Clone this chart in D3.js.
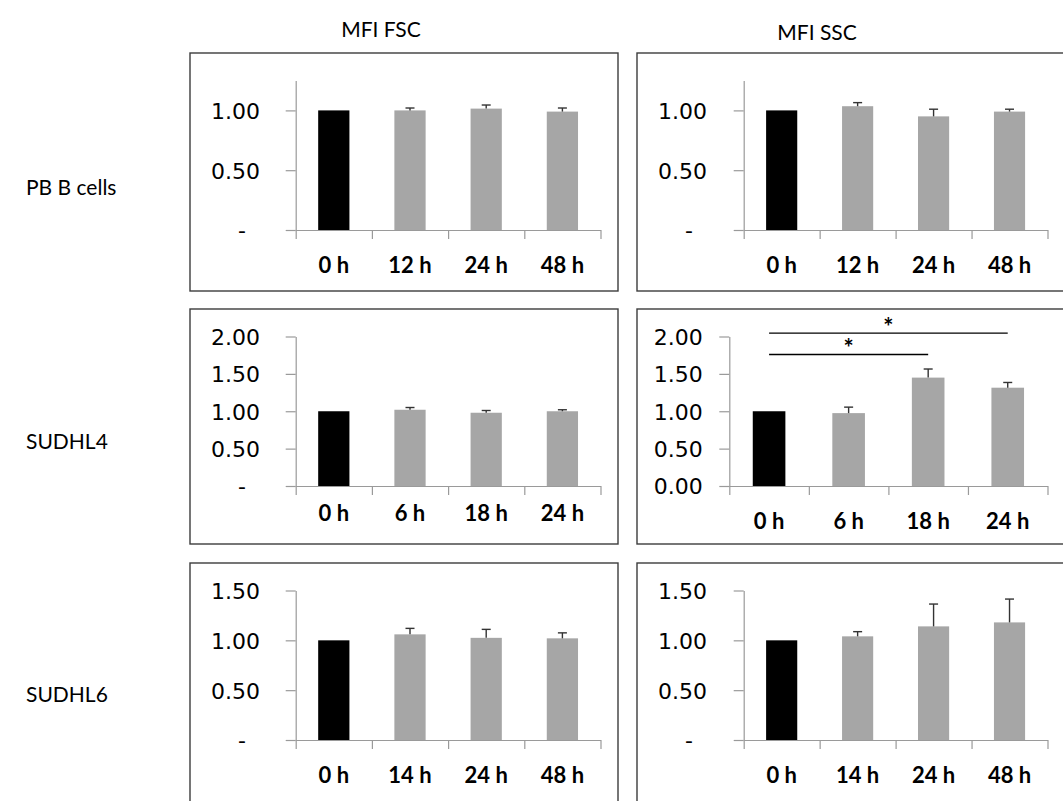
<!DOCTYPE html>
<html>
<head>
<meta charset="utf-8">
<script src="https://cdn.jsdelivr.net/npm/d3@7/dist/d3.min.js"></script>
<style>
  html, body { margin: 0; padding: 0; background: #fff; }
  svg { display: block; }
</style>
</head>
<body>
<svg id="chart" width="1063" height="801"></svg>
<script>
// ---------------- DATA ----------------
const colTitles = ["MFI FSC", "MFI SSC"];
const rowLabels = ["PB B cells", "SUDHL4", "SUDHL6"];

const catsPB  = ["0 h", "12 h", "24 h", "48 h"];
const catsSU4 = ["0 h", "6 h", "18 h", "24 h"];
const catsSU6 = ["0 h", "14 h", "24 h", "48 h"];

const fscPB     = [1.00, 1.00, 1.015, 0.99];
const fscPBErr  = [0, 0.02, 0.03, 0.03];
const sscPB     = [1.00, 1.035, 0.95, 0.99];
const sscPBErr  = [0, 0.03, 0.06, 0.02];

const fscSU4    = [1.00, 1.02, 0.98, 1.00];
const fscSU4Err = [0, 0.03, 0.03, 0.02];
const sscSU4    = [1.00, 0.975, 1.45, 1.315];
const sscSU4Err = [0, 0.08, 0.115, 0.07];

const fscSU6    = [1.00, 1.06, 1.025, 1.02];
const fscSU6Err = [0, 0.06, 0.085, 0.055];
const sscSU6    = [1.00, 1.04, 1.14, 1.18];
const sscSU6Err = [0, 0.047, 0.224, 0.234];

const ticksPB  = [0, 0.5, 1.0];
const ticksSU4 = [0, 0.5, 1.0, 1.5, 2.0];
const ticksSU6 = [0, 0.5, 1.0, 1.5];
const yMaxPB = 1.25, yMaxSU4 = 2.0, yMaxSU6 = 1.5;

// significance brackets for SUDHL4 SSC: [from category, to category, level, label]
const sigSU4 = [
  {from: "0 h", to: "24 h", level: 2.045, label: "*"},
  {from: "0 h", to: "18 h", level: 1.76,  label: "*"}
];

// ---------------- LAYOUT ----------------
const colBoxLeft = [190, 637];
const colBoxW    = [428, 440];
const rowBoxTop  = [53, 309, 563];
const rowBoxH    = [238, 235, 250];
const plotTopOff = 27.5, plotBotOff = 177, plotRightOff = 410.5;

const panels = [
  {r:0, c:0, cats:catsPB,  vals:fscPB,  errs:fscPBErr,  ticks:ticksPB,  yMax:yMaxPB,  zero:"-",    axisOff:105.7, lblGap:25.7, xLab:42.7},
  {r:0, c:1, cats:catsPB,  vals:sscPB,  errs:sscPBErr,  ticks:ticksPB,  yMax:yMaxPB,  zero:"-",    axisOff:106.7, lblGap:26.7, xLab:42.7},
  {r:1, c:0, cats:catsSU4, vals:fscSU4, errs:fscSU4Err, ticks:ticksSU4, yMax:yMaxSU4, zero:"-",    axisOff:105.7, lblGap:25.7, xLab:35},
  {r:1, c:1, cats:catsSU4, vals:sscSU4, errs:sscSU4Err, ticks:ticksSU4, yMax:yMaxSU4, zero:"0.00", axisOff:92.3,  lblGap:16.6, xLab:42.5, sig:sigSU4},
  {r:2, c:0, cats:catsSU6, vals:fscSU6, errs:fscSU6Err, ticks:ticksSU6, yMax:yMaxSU6, zero:"-",    axisOff:105.7, lblGap:25.7, xLab:43},
  {r:2, c:1, cats:catsSU6, vals:sscSU6, errs:sscSU6Err, ticks:ticksSU6, yMax:yMaxSU6, zero:"-",    axisOff:106.7, lblGap:26.7, xLab:43}
];

const svg = d3.select("#chart");
const labelFont = "Lato, 'Open Sans', sans-serif";
const numFont = "'DejaVu Sans', Verdana, sans-serif";
const axisColor = "#9a9a9a";

// column titles
const titleX = [381, 817];
colTitles.forEach((t, i) => {
  svg.append("text")
    .attr("x", titleX[i]).attr("y", i === 0 ? 37 : 40)
    .attr("text-anchor", "middle")
    .attr("font-family", labelFont).attr("font-size", 21)
    .attr("fill", "#000").text(t);
});

// row labels
const rowLabelY = [186, 440, 693];
rowLabels.forEach((t, i) => {
  svg.append("text")
    .attr("x", 26).attr("y", rowLabelY[i])
    .attr("dominant-baseline", "central")
    .attr("font-family", labelFont).attr("font-size", 21)
    .attr("fill", "#000").text(t);
});

panels.forEach(p => {
  const bx = colBoxLeft[p.c], by = rowBoxTop[p.r];
  const g = svg.append("g");

  // frame
  g.append("rect")
    .attr("x", bx).attr("y", by)
    .attr("width", colBoxW[p.c]).attr("height", rowBoxH[p.r])
    .attr("fill", "none").attr("stroke", "#3c3c3c").attr("stroke-width", 1.4);

  const left = bx + p.axisOff, right = bx + plotRightOff;
  const top = by + plotTopOff, bottom = by + plotBotOff;

  const x = d3.scaleBand().domain(p.cats).range([left, right])
    .paddingInner(0.59).paddingOuter(0.295);
  const y = d3.scaleLinear().domain([0, p.yMax]).range([bottom, top]);
  const idx = d3.scaleLinear().domain([0, p.cats.length]).range([left, right]);

  // bars
  g.selectAll(".bar").data(p.cats).join("rect")
    .attr("x", d => x(d))
    .attr("width", x.bandwidth())
    .attr("y", (d, i) => y(p.vals[i]))
    .attr("height", (d, i) => y(0) - y(p.vals[i]))
    .attr("fill", (d, i) => i === 0 ? "#000" : "#a6a6a6");

  // x axis line + category boundary ticks
  const xAx = g.append("g").attr("transform", `translate(0,${y(0)})`)
    .call(d3.axisBottom(idx).tickValues(d3.range(p.cats.length + 1))
      .tickSize(9).tickSizeOuter(0).tickFormat(""));
  xAx.selectAll("path,line").attr("stroke", axisColor).attr("stroke-width", 1.2);

  // x labels
  const xLab = g.append("g").attr("transform", `translate(0,${y(0)})`)
    .call(d3.axisBottom(x).tickSize(0));
  xLab.select(".domain").remove();
  xLab.selectAll("text")
    .attr("y", p.xLab).attr("dy", 0)
    .attr("font-family", labelFont).attr("font-weight", "bold")
    .attr("font-size", 22).attr("fill", "#000");

  // y axis
  const yAx = g.append("g").attr("transform", `translate(${left},0)`)
    .call(d3.axisLeft(y).tickValues(p.ticks).tickSize(10).tickSizeOuter(0)
      .tickPadding(p.lblGap)
      .tickFormat(v => v === 0 ? p.zero : d3.format(".2f")(v)));
  yAx.selectAll("path,line").attr("stroke", axisColor).attr("stroke-width", 1.2);
  yAx.selectAll("text")
    .attr("font-family", numFont).attr("font-size", 22).attr("fill", "#000")
    .attr("dy", "0.36em");
  if (p.zero === "-") {
    yAx.selectAll("text").filter(v => v === 0).attr("x", -(10 + p.lblGap + 14));
  }

  // error bars (upper only)
  const capW = 9;
  p.cats.forEach((cat, i) => {
    if (!p.errs[i]) return;
    const cx = x(cat) + x.bandwidth() / 2;
    const y1 = y(p.vals[i]), y2 = y(p.vals[i] + p.errs[i]);
    g.append("line").attr("x1", cx).attr("x2", cx).attr("y1", y1).attr("y2", y2)
      .attr("stroke", "#333").attr("stroke-width", 1.4);
    g.append("line").attr("x1", cx - capW / 2).attr("x2", cx + capW / 2)
      .attr("y1", y2).attr("y2", y2)
      .attr("stroke", "#333").attr("stroke-width", 1.4);
  });

  // significance brackets
  if (p.sig) {
    p.sig.forEach(s => {
      const x1 = x(s.from) + x.bandwidth() / 2, x2 = x(s.to) + x.bandwidth() / 2;
      const ly = y(s.level);
      g.append("line").attr("x1", x1).attr("x2", x2).attr("y1", ly).attr("y2", ly)
        .attr("stroke", "#000").attr("stroke-width", 1.4);
      g.append("text").attr("x", (x1 + x2) / 2).attr("y", ly + 3)
        .attr("text-anchor", "middle")
        .attr("font-family", labelFont).attr("font-weight", "bold")
        .attr("font-size", 24).attr("fill", "#000").text(s.label);
    });
  }
});
</script>
</body>
</html>
